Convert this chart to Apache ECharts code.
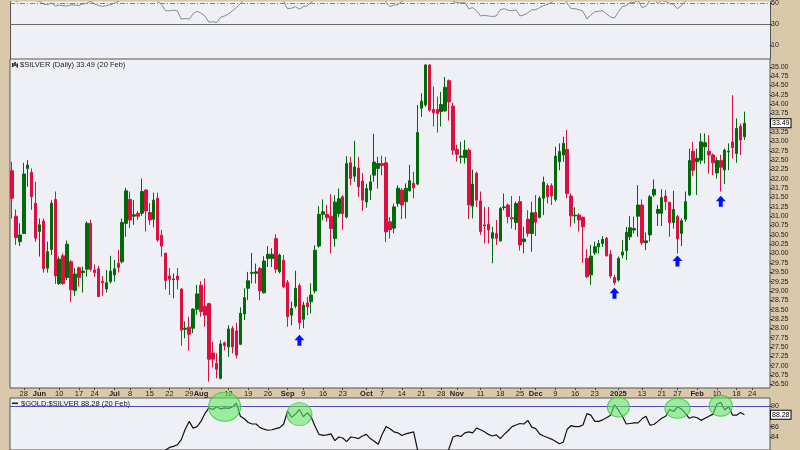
<!DOCTYPE html>
<html><head><meta charset="utf-8">
<script src="https://cdn.jsdelivr.net/npm/echarts@6/dist/echarts.min.js"></script>
<style>html,body{margin:0;padding:0;background:#d9c9aa}#c{width:800px;height:450px}</style>
</head><body><div id="c"></div>
<script>
// ---------- categories ----------
const startDate = '2024-05-22';
const endDate = '2025-02-28';
const holidays = ['2024-05-27','2024-06-19','2024-07-04','2024-09-02','2024-11-28','2024-12-25','2025-01-01','2025-01-09','2025-01-20','2025-02-17'];
const tickLabels = [
 ['2024-05-28','28'],['2024-06-03','Jun'],['2024-06-10','10'],['2024-06-17','17'],['2024-06-24','24'],
 ['2024-07-01','Jul'],['2024-07-08','8'],['2024-07-15','15'],['2024-07-22','22'],['2024-07-29','29'],
 ['2024-08-01','Aug'],['2024-08-12','12'],['2024-08-19','19'],['2024-08-26','26'],
 ['2024-09-03','Sep'],['2024-09-09','9'],['2024-09-16','16'],['2024-09-23','23'],
 ['2024-10-01','Oct'],['2024-10-07','7'],['2024-10-14','14'],['2024-10-21','21'],['2024-10-28','28'],
 ['2024-11-01','Nov'],['2024-11-11','11'],['2024-11-18','18'],['2024-11-25','25'],
 ['2024-12-02','Dec'],['2024-12-09','9'],['2024-12-16','16'],['2024-12-23','23'],
 ['2025-01-02','2025'],['2025-01-13','13'],['2025-01-21','21'],['2025-01-27','27'],
 ['2025-02-03','Feb'],['2025-02-10','10'],['2025-02-18','18'],['2025-02-24','24']
];
const priceTicks = [26.5,26.75,27,27.25,27.5,27.75,28,28.25,28.5,28.75,29,29.25,29.5,29.75,30,30.25,30.5,30.75,31,31.25,31.5,31.75,32,32.25,32.5,32.75,33,33.25,33.5,33.75,34,34.25,34.5,34.75,35];
const rsiTicks = [10,30,50];
const ratioTicks = [84,86,90];

// ---------- $SILVER daily OHLC ----------
const open = [
32.22,31.00,30.32,30.54,32.28,32.17,31.35,30.59,30.87,29.61,
30.11,31.45,29.20,29.94,29.36,29.78,29.01,29.62,29.49,29.58,
30.81,29.56,29.59,29.26,29.05,29.25,29.43,29.74,29.78,30.81,
31.45,31.00,31.08,31.08,31.70,31.10,30.92,31.48,30.49,30.01,
29.40,29.30,29.40,29.05,27.97,28.03,28.00,28.51,29.15,28.59,
28.66,27.34,27.06,26.66,27.61,27.50,27.99,27.93,27.57,28.38,
29.07,29.47,29.47,29.60,28.95,29.87,29.87,30.40,29.51,29.82,
29.23,28.35,28.59,29.14,28.24,28.68,28.71,29.00,30.20,31.05,
31.05,31.00,30.40,31.07,31.52,30.98,32.43,32.07,32.29,31.94,
31.38,31.70,32.10,32.28,32.41,32.43,30.85,30.68,31.34,31.70,
31.39,31.68,31.88,31.86,33.89,33.98,35.05,33.86,33.86,33.80,
33.82,34.63,33.95,32.79,32.58,32.57,32.77,31.27,32.15,31.41,
30.77,30.79,30.41,30.54,30.34,31.23,31.30,30.96,30.83,31.39,
30.32,30.92,30.54,31.10,30.97,31.48,31.82,31.82,31.45,32.46,
32.64,32.79,31.54,31.01,31.03,30.97,29.87,29.43,30.02,30.18,
30.27,30.41,29.98,29.36,29.29,29.96,30.08,30.45,30.63,31.00,
31.30,30.29,30.50,31.57,31.08,31.08,31.54,31.37,30.83,30.99,
30.54,30.92,31.57,32.74,32.46,32.50,32.86,32.74,32.64,32.16,
32.49,32.24,32.72,32.99,32.68,33.41,33.13];
const close = [
31.48,30.43,30.50,32.13,32.37,31.52,30.41,30.77,29.59,30.05,
31.35,29.40,29.85,29.20,30.25,29.03,29.45,29.36,29.53,30.81,
29.58,29.49,28.85,29.22,29.22,29.53,29.59,29.63,30.83,31.68,
30.90,31.04,31.00,31.66,31.14,30.90,31.43,30.36,30.20,29.28,
29.31,29.32,29.30,27.95,28.00,27.84,28.51,28.92,28.45,28.35,
27.17,27.17,26.90,27.58,27.54,27.98,27.50,27.28,28.40,28.82,
29.27,29.49,29.51,29.00,29.80,29.98,29.98,29.58,29.96,29.11,
28.31,28.53,29.07,28.15,28.62,28.57,28.89,30.09,31.05,31.12,
30.96,30.67,31.38,31.47,31.07,32.41,32.01,32.32,31.79,31.43,
31.74,31.92,32.45,32.41,32.36,30.58,30.64,31.25,31.75,31.30,
31.75,31.95,31.76,33.24,34.08,35.05,33.84,33.77,33.75,33.99,
34.45,34.06,32.77,32.66,32.61,32.77,31.30,31.86,31.43,30.59,
30.74,30.63,30.56,30.41,31.21,31.25,30.99,30.93,31.34,30.23,
30.39,30.54,31.09,30.84,31.48,31.91,31.52,31.54,32.61,32.73,
32.95,31.61,31.01,31.03,30.90,30.72,29.38,29.93,30.18,30.27,
30.38,29.94,29.40,29.22,29.87,30.04,30.57,30.69,30.67,31.30,
30.29,30.34,31.52,31.72,31.18,31.50,31.39,30.83,31.18,30.39,
30.88,31.39,32.49,32.23,32.55,32.99,32.97,32.64,32.43,32.49,
32.31,32.77,32.74,32.84,33.35,33.04,33.49];
const low = [
30.94,30.23,30.20,30.52,31.79,31.17,30.32,29.92,29.49,29.49,
29.96,29.19,29.16,29.16,29.29,28.70,28.87,29.11,28.96,29.38,
29.52,29.38,28.83,28.87,28.96,29.20,29.25,29.49,29.74,30.45,
30.68,30.77,30.90,31.01,30.59,30.77,30.70,30.32,29.92,29.04,
28.89,28.80,29.04,27.53,27.73,27.40,27.87,28.36,28.31,28.04,
26.57,26.95,26.66,26.63,27.41,27.24,27.33,27.19,27.55,28.22,
28.75,29.20,29.20,28.75,28.93,29.64,29.64,29.48,29.47,29.07,
28.04,28.08,28.53,27.97,28.00,28.35,28.40,28.93,30.16,30.89,
30.85,30.00,30.18,30.98,30.64,30.94,31.83,31.92,31.52,31.14,
31.23,31.43,31.92,31.74,32.10,30.31,30.40,30.54,31.25,30.92,
30.94,31.66,31.48,31.83,33.66,33.93,33.80,33.40,33.24,33.40,
33.80,33.56,32.64,32.46,32.41,32.41,30.92,30.94,31.25,30.50,
30.27,30.27,29.74,30.23,30.32,31.16,30.81,30.67,30.63,30.08,
30.01,30.45,30.05,30.47,30.94,31.03,31.34,31.30,31.39,32.23,
32.46,31.48,30.72,30.81,30.59,29.75,29.34,29.16,29.96,30.00,
30.18,29.92,29.34,29.16,29.25,29.87,29.83,30.36,30.54,30.45,
30.23,30.09,30.32,31.52,30.74,30.74,31.16,30.45,30.67,30.00,
30.20,30.85,31.54,32.07,31.57,32.40,32.41,32.14,32.10,32.01,
31.66,31.86,32.23,32.55,32.43,32.64,33.04];
const high = [
32.46,31.18,30.81,32.43,32.50,32.28,31.92,30.94,30.94,30.32,
31.43,31.66,29.92,30.01,30.35,29.83,29.61,29.65,29.65,30.86,
30.90,29.71,29.67,29.40,29.56,29.94,29.83,30.10,30.94,31.76,
31.66,31.43,31.14,32.01,31.72,31.35,31.63,31.63,30.63,30.02,
29.61,29.47,29.61,29.07,28.18,28.31,28.54,29.16,29.26,29.33,
28.68,27.64,27.33,27.68,27.64,28.08,28.06,28.15,28.56,29.07,
29.51,30.02,29.73,29.64,29.93,30.20,30.14,30.52,30.00,29.96,
29.29,28.71,29.54,29.20,28.71,28.84,29.20,30.22,31.27,31.45,
31.30,31.59,31.56,31.74,31.56,32.61,32.59,33.02,32.59,32.16,
31.87,32.10,33.21,32.59,32.62,32.59,30.98,31.34,31.83,31.75,
31.88,32.37,32.19,33.98,34.29,35.07,35.07,34.47,34.20,34.33,
34.73,34.66,34.04,32.91,32.99,33.04,32.82,32.25,32.19,31.66,
31.25,31.25,30.72,30.90,31.25,31.61,31.34,31.54,31.39,31.54,
30.72,31.16,31.39,31.57,31.54,32.06,31.88,31.88,32.86,32.95,
33.13,33.31,31.61,31.24,31.08,30.99,30.12,30.23,30.32,30.36,
30.47,30.45,30.09,29.43,29.92,30.36,30.72,31.00,30.99,31.83,
31.45,30.56,31.57,31.98,31.30,31.72,31.70,31.39,31.68,31.03,
30.94,31.66,32.81,32.99,32.81,33.22,33.22,33.17,32.68,32.59,
32.64,32.81,32.95,34.24,33.62,33.48,33.80];

// ---------- upper indicator (RSI) ----------
const rsi = [
58,52,53,60,61,56,53,
52,49.5,48.8,50.5,47.5,48.5,47.8,
47.5,48.8,48.5,48.2,49.5,50.3,52,
49.5,48.1,47.2,48.0,48.8,50.3,52,
55,60,56,57,56,60,56,54,57,
52,49,43,43,43.5,43,35,35.5,35,40,
42.5,40.6,38,32,32.5,31.5,37,38,40,43,
46,50,54,
56,57,57,53,57,58,58,54,56,
52,45,45.5,47,44.5,47,48,51,56,62,
62,61,58,62,63,60,66,63,64,60,57,59,60,63,63,62,
51,47,48.5,49,52,
54,56,55,64,68,72,62,61,61,62,65,60,
52,51,50.5,51,45,46,43,38,38.5,38,37.5,38,
44,45,43.5,43,44,38,39,41,44,44,46,48,49,51,
56,57,59,50,
45,45,44,42.5,35,39,42,42.5,43,40,37,36,42,47,48,51,
51,53,46,47.5,53,55,50,53,52,50,49,45,48,52,
58,55,56,59,59,57,55,56,54,58,58,57,61,58,61];
const rsiLevels = [50, 30];

// ---------- $GOLD:$SILVER ratio ----------
const ratio = [
75.5,76.8,76.5,74.0,74.2,75.2,76.0,
76.2,77.0,76.6,75.8,79.5,
78.8,79.5,78.5,79.4,79.2,79.0,79.6,
77.8,79.8,79.9,80.6,80.2,80.0,79.6,
79.5,79.3,78.0,77.2,77.8,77.6,77.9,77.0,
78.3,78.5,78.1,79.8,80.3,81.5,
82.0,82.2,82.5,
83.5,85.5,87.0,85.7,86.0,87.0,88.5,
89.6,89.3,89.8,89.4,89.6,89.5,89.8,90.5,88.0,87.5,
86.8,86.5,86.5,85.8,85.5,85.3,85.4,85.6,85.8,86.5,
89.0,87.8,88.4,89.3,87.9,88.7,87.8,86.0,84.5,84.3,
84.4,84.6,83.3,84.0,83.8,83.1,84.0,83.9,83.7,84.2,
84.5,83.7,83.2,82.6,84.5,86.0,85.6,85.0,84.8,84.3,
84.6,84.8,85.0,
81.5,80.2,78.8,80.5,80.8,81.0,80.3,79.8,81.8,
84.0,84.3,84.1,84.8,85.0,84.8,85.7,85.4,85.0,84.5,
84.2,84.4,83.7,84.5,85.2,86.0,86.3,86.6,86.5,87.2,
85.9,85.6,84.6,84.2,83.9,83.6,83.2,82.7,83.0,85.5,
86.2,86.0,86.0,86.3,88.5,88.2,87.0,87.0,87.3,87.7,
88.2,90.2,89.2,88.0,86.5,86.6,86.7,86.7,87.5,88.0,
86.3,86.4,87.0,87.6,88.0,89.3,88.9,89.8,89.4,88.6,
87.6,87.9,87.7,87.2,87.6,88.0,88.4,90.3,90.7,89.2,
89.8,88.2,88.2,88.7,88.28];
const ratioLevel = 90;

// ---------- annotations ----------
const arrowIdx = [53, 73, 153, 169, 180];
const arrowPrice = [26.37, 27.68, 28.94, 29.80, 31.40];
const circleIdx = [54, 73, 154, 169, 180];
const circleVal = [89.8, 88.4, 89.75, 89.5, 90.0];

// ---------- build ----------
const hol = new Set(holidays);
const dates = [];
for (let t = Date.parse(startDate + 'T00:00:00Z'); t <= Date.parse(endDate + 'T00:00:00Z'); t += 86400000) {
  const d = new Date(t), wd = d.getUTCDay();
  const s = d.toISOString().slice(0, 10);
  if (wd === 0 || wd === 6 || hol.has(s)) continue;
  dates.push(s);
}
const labelMap = Object.fromEntries(tickLabels);
const candles = open.map((o, i) => [o, close[i], low[i], high[i]]);
const last = close.length - 1;
const monNames = ['Jan','Feb','Mar','Apr','May','Jun','Jul','Aug','Sep','Oct','Nov','Dec'];
const lastDate = new Date(dates[last] + 'T00:00:00Z');
const lastDateTxt = lastDate.getUTCDate() + ' ' + monNames[lastDate.getUTCMonth()];
const circleSizes = [[32, 29], [25, 23], [22, 20], [25, 20], [23, 21]];

const NUMF = 'Liberation Sans';
const gridStyle = {show: true, backgroundColor: '#eff0f6', borderColor: '#555', borderWidth: 1};
const tagLabel = {show: true, position: 'end', distance: 1, backgroundColor: '#fff', borderColor: '#000', borderWidth: 1,
  padding: [1, 1, 0, 1], fontSize: 7, color: '#000', fontFamily: NUMF};
const hiddenX = (g) => ({type: 'category', gridIndex: g, data: dates, boundaryGap: true, show: false});
const rightY = (g, min, max, ticks, fmt, line) => ({
  type: 'value', gridIndex: g, position: 'right', min: min, max: max,
  axisLine: {show: !!line, lineStyle: {color: '#555', width: 1}}, splitLine: {show: false},
  axisTick: {show: true, length: 2, customValues: ticks, lineStyle: {color: '#333'}},
  axisLabel: {customValues: ticks, formatter: fmt, fontSize: 7, color: '#222', margin: 1, fontFamily: NUMF}
});

const chart = echarts.init(document.getElementById('c'));
chart.setOption({
  animation: false,
  backgroundColor: '#d9c9aa',
  textStyle: {fontFamily: NUMF},
  title: [
    {text: '$SILVER (Daily) ' + close[last].toFixed(2) + ' (' + lastDateTxt + ')', left: 20, top: 61, padding: 0,
     textStyle: {fontSize: 7.5, fontWeight: 'normal', color: '#222', fontFamily: NUMF}},
    {text: '$GOLD:$SILVER ' + ratio[last].toFixed(2) + ' (' + lastDateTxt + ')', left: 21, top: 400, padding: 0,
     textStyle: {fontSize: 7.5, fontWeight: 'normal', color: '#222', fontFamily: NUMF}}
  ],
  graphic: [
    {type: 'group', left: 12, top: 62, children: [
      {type: 'rect', shape: {x: 0, y: 1, width: 1.6, height: 4}, style: {fill: '#222'}},
      {type: 'rect', shape: {x: 2.2, y: 0, width: 1.6, height: 4}, style: {fill: '#222'}},
      {type: 'rect', shape: {x: 4.4, y: 1.5, width: 1.6, height: 4}, style: {fill: '#222'}}
    ]},
    {type: 'rect', left: 12, top: 402.5, shape: {width: 6, height: 1.6}, style: {fill: '#222'}}
  ],
  grid: [
    {left: 10, right: 30, top: 0, height: 59, show: true, backgroundColor: '#eff0f6', borderWidth: 0},
    Object.assign({left: 10, right: 30, top: 59, height: 329}, gridStyle),
    Object.assign({left: 10, right: 30, top: 398, height: 60}, gridStyle)
  ],
  xAxis: [
    hiddenX(0),
    {type: 'category', gridIndex: 1, data: dates, boundaryGap: true,
     axisLine: {show: false}, splitLine: {show: false},
     axisTick: {show: true, alignWithLabel: true, length: 2, interval: (i, v) => v in labelMap, lineStyle: {color: '#444'}},
     axisLabel: {show: true, interval: (i, v) => v in labelMap, margin: 2, fontSize: 7.5, color: '#222', fontFamily: NUMF,
       formatter: (v) => { const t = labelMap[v] || ''; return t.length > 2 ? '{b|' + t + '}' : t; },
       rich: {b: {fontWeight: 'bold', fontSize: 7.5, color: '#222', fontFamily: NUMF}}}},
    hiddenX(2)
  ],
  yAxis: [
    rightY(0, -3.5, 51.9, rsiTicks, (v) => String(v), true),
    rightY(1, 26.40, 35.21, priceTicks, (v) => v.toFixed(2), false),
    rightY(2, 81.5, 91.5, ratioTicks, (v) => String(v), false),
    {type: 'value', gridIndex: 0, position: 'left', min: -3.5, max: 51.9,
     axisLine: {show: true, lineStyle: {color: '#555', width: 1}}, axisTick: {show: false}, axisLabel: {show: false}, splitLine: {show: false}}
  ],
  series: [
    {type: 'line', xAxisIndex: 0, yAxisIndex: 0, data: rsi, symbol: 'none', clip: true,
     lineStyle: {color: '#7f917f', width: 1}, z: 3,
     markLine: {silent: true, symbol: 'none', label: {show: false}, data: [
       {yAxis: rsiLevels[0], lineStyle: {type: [5, 2, 1, 2], color: '#8d7f7f', width: 1}},
       {yAxis: rsiLevels[1], lineStyle: {type: 'solid', color: '#6a6a6a', width: 1}}
     ]}},
    {type: 'candlestick', xAxisIndex: 1, yAxisIndex: 1, data: candles, barWidth: 3,
     itemStyle: {color: '#00690a', color0: '#dc1040', borderColor: '#00690a', borderColor0: '#dc1040', borderWidth: 1},
     markLine: {silent: true, symbol: 'none', data: [{yAxis: close[last]}],
       lineStyle: {color: 'rgba(0,0,0,0)', width: 1}, label: Object.assign({formatter: () => close[last].toFixed(2)}, tagLabel)},
     markPoint: {silent: true, symbol: 'path://M5 0 L10 5.5 L7 5.5 L7 11 L3 11 L3 5.5 L0 5.5 Z', symbolSize: [10, 11],
       itemStyle: {color: '#0010ff'}, label: {show: false},
       data: arrowIdx.map((i, k) => ({coord: [i, arrowPrice[k]]}))}},
    {type: 'line', xAxisIndex: 2, yAxisIndex: 2, data: ratio, symbol: 'none', clip: true,
     lineStyle: {color: '#111', width: 1.2}, z: 3,
     markLine: {silent: true, symbol: 'none', data: [
       {yAxis: ratioLevel, lineStyle: {color: '#5050b0', width: 1, type: 'solid'}, label: {show: false}},
       {yAxis: ratio[last], lineStyle: {color: 'rgba(0,0,0,0)', width: 1},
        label: Object.assign({formatter: () => ratio[last].toFixed(2)}, tagLabel)}
     ]},
     markPoint: {silent: true, symbol: 'circle', label: {show: false},
       itemStyle: {color: 'rgba(100,232,100,0.6)', borderColor: 'rgba(60,200,60,0.85)', borderWidth: 1},
       data: circleIdx.map((i, k) => ({coord: [i, circleVal[k]], symbolSize: circleSizes[k]}))}}
  ]
});
</script>
</body></html>
